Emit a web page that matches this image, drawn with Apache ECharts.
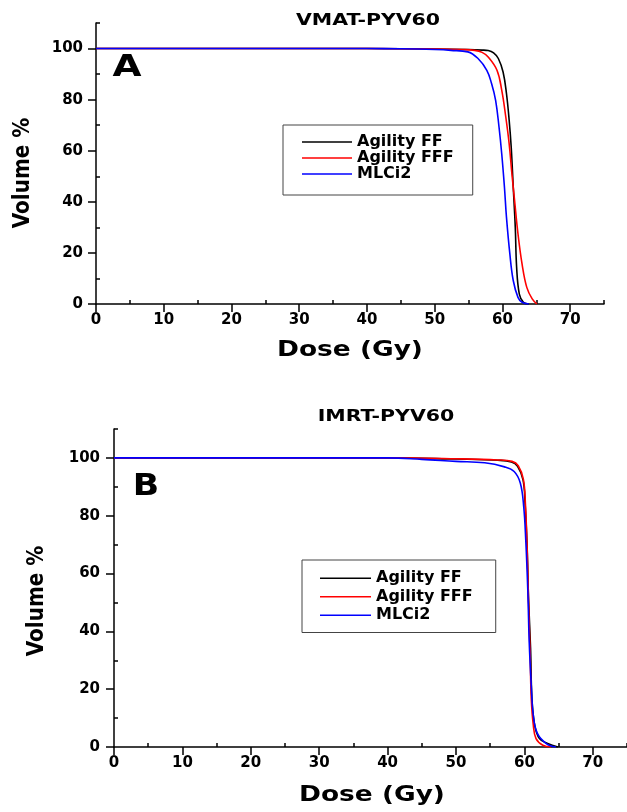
<!DOCTYPE html>
<html>
<head>
<meta charset="utf-8">
<script src="https://cdn.jsdelivr.net/npm/echarts@6/dist/echarts.min.js"></script>
<style>
  html, body { margin: 0; padding: 0; background: #fff; }
  #main { width: 627px; height: 812px; }
</style>
</head>
<body>
<div id="main"></div>
<script>
// series names
var names = ['Agility FF', 'Agility FFF', 'MLCi2'];
var colors = ['#000000', '#ff0000', '#0000ff'];

// ticks
var xMajorTicks = [0, 10, 20, 30, 40, 50, 60, 70];
var xMinorTicks = [5, 15, 25, 35, 45, 55, 65, 75];
var yMajorTicks = [0, 20, 40, 60, 80, 100];
var yMinorTicks = [10, 30, 50, 70, 90, 110];

// panel A : VMAT-PYV60 (dose Gy / volume %)
var doseA_FF = [0, 40, 50, 55, 57, 57.9, 58.7, 59.4, 60.1, 60.6, 61.0, 61.3, 61.6, 61.9, 62.1, 62.5, 63.1, 63.9];
var volA_FF  = [100, 100, 99.8, 99.6, 99.4, 99.2, 98.3, 96.1, 90.8, 82.4, 71.9, 61.4, 45.8, 30.1, 14.4, 3.9, 0.7, 0];
var doseA_FFF = [0, 40, 50, 54, 55.9, 57.0, 57.9, 59.2, 59.9, 60.5, 61.0, 61.4, 61.8, 62.3, 62.9, 63.6, 64.4, 65.1];
var volA_FFF  = [100, 100, 99.8, 99.6, 99.3, 98.5, 96.7, 91.5, 83.7, 73.2, 62.7, 51.0, 40.5, 27.5, 15.7, 6.5, 2.0, 0];
var doseA_MLC = [0, 40, 45, 50, 52.4, 54.9, 56.4, 57.7, 58.4, 59.0, 59.5, 59.9, 60.3, 60.6, 61.1, 61.6, 62.3, 62.9, 63.9];
var volA_MLC  = [100, 100, 99.9, 99.6, 99.3, 98.7, 96.1, 91.5, 86.3, 79.7, 69.3, 58.8, 45.8, 34.0, 19.6, 9.2, 2.6, 0.7, 0];

// panel B : IMRT-PYV60
var doseB_FF = [0, 40, 50, 56.1, 58.1, 59.0, 59.8, 60.1, 60.4, 60.6, 60.9, 61.1, 61.5, 62.2, 63.4, 64.9];
var volB_FF  = [100, 100, 99.6, 99.2, 98.6, 97.1, 92.4, 84.3, 69.2, 51.7, 34.3, 16.9, 7.6, 2.9, 1.2, 0];
var doseB_FFF = [0, 40, 50, 56.1, 58.2, 59.1, 59.85, 60.15, 60.4, 60.6, 60.85, 61.0, 61.3, 61.7, 62.7, 63.9];
var volB_FFF  = [100, 100, 99.7, 99.3, 98.8, 97.3, 92.6, 84.0, 68.5, 50.5, 31.0, 16.9, 7.6, 2.9, 0.6, 0];
var doseB_MLC = [0, 40, 45, 50, 54.2, 57.1, 58.5, 59.4, 59.9, 60.2, 60.5, 60.7, 61.0, 61.3, 61.9, 63.2, 64.6];
var volB_MLC  = [100, 100, 99.5, 98.8, 98.3, 96.9, 95.3, 91.3, 83.1, 71.5, 54.1, 36.6, 21.5, 11.0, 4.7, 1.2, 0];

var FONT = 'DejaVu Sans';

function pts(d, v) {
    return d.map(function(x, i) { return [x, v[i]]; });
}

function mkSeries(idx, name, color, d, v) {
    return {
        name: name,
        type: 'line',
        xAxisIndex: idx,
        yAxisIndex: idx,
        data: pts(d, v),
        symbol: 'none',
        smooth: 0.4,
        lineStyle: { color: color, width: 1.6 },
        itemStyle: { color: color }
    };
}

function mainX(grid) {
    return {
        type: 'value', gridIndex: grid, min: 0, max: 75, interval: 10,
        axisLine: { show: true, onZero: false, lineStyle: { color: '#000', width: 1.5 } },
        axisTick: { show: true, length: 8, customValues: xMajorTicks, lineStyle: { color: '#000', width: 1.5 } },
        axisLabel: { customValues: xMajorTicks, margin: 9, color: '#000', fontFamily: FONT, fontWeight: 'bold', fontSize: 15 },
        splitLine: { show: false }
    };
}
function minorX(grid) {
    return {
        type: 'value', gridIndex: grid, min: 0, max: 75, interval: 5,
        axisLine: { show: false },
        axisTick: { show: true, length: 4, customValues: xMinorTicks, lineStyle: { color: '#000', width: 1.5 } },
        axisLabel: { show: false },
        splitLine: { show: false }
    };
}
function mainY(grid, margin) {
    return {
        type: 'value', gridIndex: grid, min: 0, max: 110, interval: 20,
        axisLine: { show: true, onZero: false, lineStyle: { color: '#000', width: 1.5 } },
        axisTick: { show: true, length: 8, customValues: yMajorTicks, lineStyle: { color: '#000', width: 1.5 } },
        axisLabel: { customValues: yMajorTicks, margin: margin, color: '#000', fontFamily: FONT, fontWeight: 'bold', fontSize: 15 },
        splitLine: { show: false }
    };
}
function minorY(grid) {
    return {
        type: 'value', gridIndex: grid, min: 0, max: 110, interval: 10,
        axisLine: { show: false },
        axisTick: { show: true, length: 4, customValues: yMinorTicks, lineStyle: { color: '#000', width: 1.5 } },
        axisLabel: { show: false },
        splitLine: { show: false }
    };
}

function txt(str, x, y, size, sx, sy, rot) {
    return {
        type: 'text', x: x, y: y, rotation: rot || 0, scaleX: sx, scaleY: sy, z: 100,
        style: {
            text: str, fill: '#000', font: 'bold ' + size + 'px "' + FONT + '"',
            textAlign: 'center', textVerticalAlign: 'middle'
        }
    };
}

var chart = echarts.init(document.getElementById('main'), null, { renderer: 'canvas' });

var option = {
    backgroundColor: '#fff',
    animation: false,
    grid: [
        { left: 96, top: 23, width: 508, height: 281 },
        { left: 114, top: 429, width: 514, height: 318 }
    ],
    xAxis: [mainX(0), mainX(1), minorX(0), minorX(1)],
    yAxis: [mainY(0, 13), mainY(1, 14), minorY(0), minorY(1)],
    legend: [{
        orient: 'vertical', left: 283, top: 125,
        padding: [9, 19, 13, 19],
        data: names,
        icon: 'rect',
        itemWidth: 50, itemHeight: 1.6, itemGap: 0,
        borderColor: '#444', borderWidth: 1, backgroundColor: '#fff',
        textStyle: { color: '#000', fontFamily: FONT, fontWeight: 'bold', fontSize: 16, lineHeight: 14 }
    }, {
        orient: 'vertical', left: 302, top: 560,
        padding: [9, 23, 8, 18],
        data: names,
        icon: 'rect',
        itemWidth: 51, itemHeight: 1.6, itemGap: 0,
        borderColor: '#444', borderWidth: 1, backgroundColor: '#fff',
        textStyle: { color: '#000', fontFamily: FONT, fontWeight: 'bold', fontSize: 16, lineHeight: 18.5 }
    }],
    graphic: [
        txt('VMAT-PYV60', 368, 21, 16, 1.28, 1),
        txt('IMRT-PYV60', 386, 417, 16, 1.28, 1),
        txt('A', 127, 68, 30, 1.25, 1),
        txt('B', 146, 487, 31, 1.12, 1),
        txt('Dose (Gy)', 350, 350, 22, 1.2, 1),
        txt('Dose (Gy)', 372, 795, 22, 1.2, 1),
        txt('Volume %', 23, 173, 20, 1, 1.15, Math.PI / 2),
        txt('Volume %', 37, 601, 20, 1, 1.15, Math.PI / 2)
    ],
    series: [
        mkSeries(0, names[0], colors[0], doseA_FF, volA_FF),
        mkSeries(0, names[1], colors[1], doseA_FFF, volA_FFF),
        mkSeries(0, names[2], colors[2], doseA_MLC, volA_MLC),
        mkSeries(1, names[0], colors[0], doseB_FF, volB_FF),
        mkSeries(1, names[1], colors[1], doseB_FFF, volB_FFF),
        mkSeries(1, names[2], colors[2], doseB_MLC, volB_MLC)
    ]
};

chart.setOption(option);
</script>
</body>
</html>
